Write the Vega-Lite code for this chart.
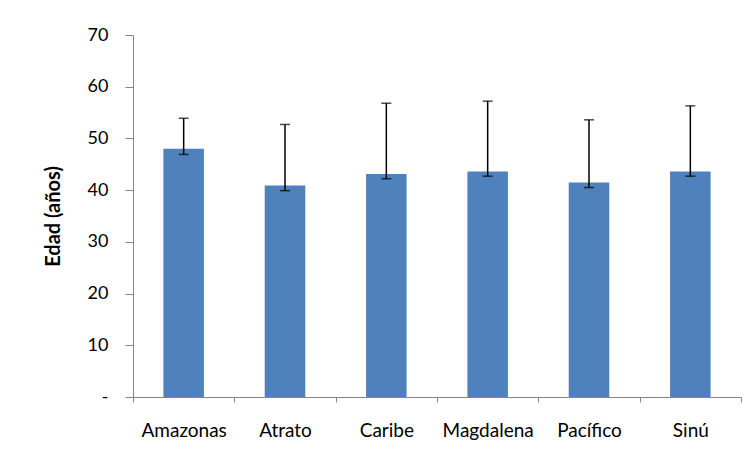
{
  "$schema": "https://vega.github.io/schema/vega-lite/v6.json",
  "width": 608,
  "height": 362,
  "autosize": "none",
  "padding": {"left": 133, "top": 35, "right": 10, "bottom": 62},
  "background": "white",
  "config": {"view": {"stroke": null}, "font": "Lato"},
  "data": {
    "values": [
      {"region": "Amazonas", "edad": 48.0, "lo": 46.9, "hi": 53.9},
      {"region": "Atrato", "edad": 40.9, "lo": 39.9, "hi": 52.7},
      {"region": "Caribe", "edad": 43.1, "lo": 42.2, "hi": 56.8},
      {"region": "Magdalena", "edad": 43.6, "lo": 42.7, "hi": 57.2},
      {"region": "Pacífico", "edad": 41.5, "lo": 40.5, "hi": 53.6},
      {"region": "Sinú", "edad": 43.6, "lo": 42.7, "hi": 56.3}
    ]
  },
  "encoding": {
    "x": {
      "field": "region",
      "type": "nominal",
      "sort": null,
      "scale": {"paddingInner": 0, "paddingOuter": 0},
      "axis": {
        "title": null,
        "labelAngle": 0,
        "labelFontSize": 19,
        "labelColor": "black",
        "tickBand": "extent",
        "tickSize": 5,
        "tickColor": "#868686",
        "domainColor": "#868686",
        "labelPadding": 19
      }
    }
  },
  "layer": [
    {
      "mark": {"type": "bar", "width": {"band": 0.4}, "color": "#4F81BD"},
      "encoding": {
        "y": {
          "field": "edad",
          "type": "quantitative",
          "scale": {"domain": [0, 70]},
          "axis": {
            "values": [0, 10, 20, 30, 40, 50, 60, 70],
            "grid": false,
            "labelExpr": "datum.value === 0 ? '-' : datum.label",
            "labelFontSize": 18,
            "labelColor": "black",
            "labelPadding": 17,
            "tickSize": 8,
            "tickColor": "#868686",
            "domainColor": "#868686",
            "title": "Edad (años)",
            "titleFontSize": 20,
            "titleFontWeight": "bold",
            "titleColor": "black",
            "titleX": -80,
            "titleY": 181,
            "titleAngle": -90,
            "titleAlign": "center",
            "titleBaseline": "middle"
          }
        }
      }
    },
    {
      "mark": {"type": "rule", "color": "black", "strokeWidth": 1.5},
      "encoding": {
        "y": {"field": "lo", "type": "quantitative"},
        "y2": {"field": "hi"}
      }
    },
    {
      "mark": {"type": "tick", "color": "black", "size": 10, "thickness": 1.5},
      "encoding": {"y": {"field": "lo", "type": "quantitative"}}
    },
    {
      "mark": {"type": "tick", "color": "black", "size": 10, "thickness": 1.5},
      "encoding": {"y": {"field": "hi", "type": "quantitative"}}
    }
  ]
}
